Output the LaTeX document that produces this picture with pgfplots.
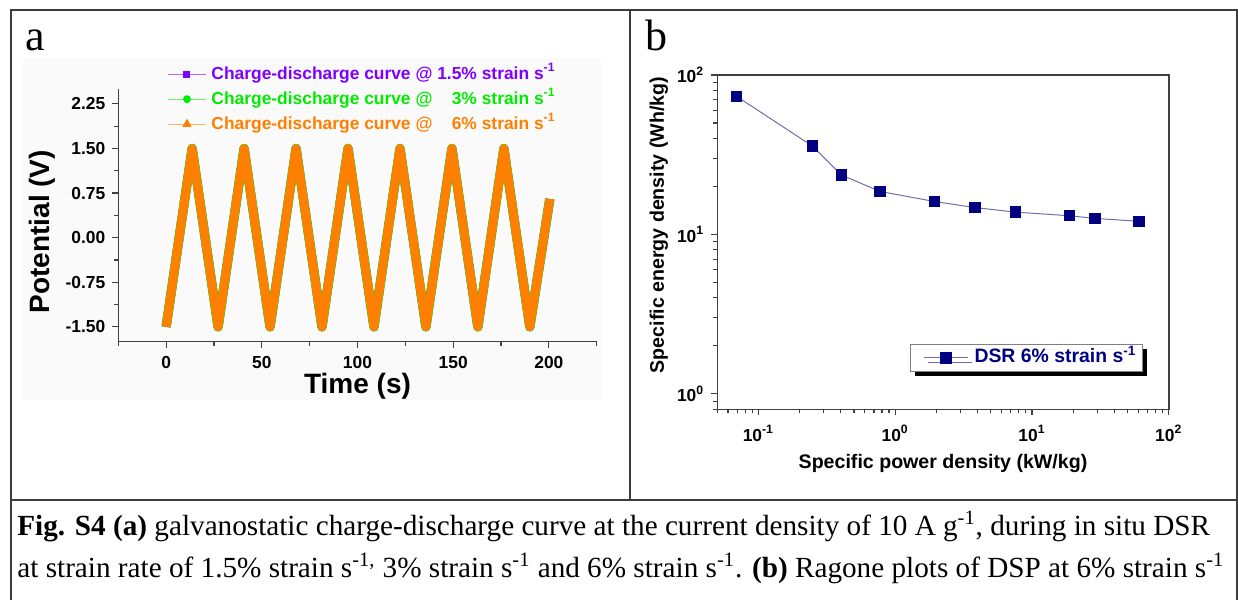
\documentclass[border=0pt]{standalone}
\usepackage{fontspec}
\setmainfont{Liberation Serif}
\setsansfont{Liberation Sans}
\usepackage{pgfplots}
\pgfplotsset{compat=1.18}
\usepackage{pgfplotstable}
\usetikzlibrary{shadows}

\definecolor{cviolet}{RGB}{128,0,255}
\definecolor{cgreen}{RGB}{0,235,0}
\definecolor{corange}{RGB}{255,128,0}
\definecolor{cnavy}{RGB}{0,0,128}
\definecolor{clink}{RGB}{110,110,170}
\definecolor{frame}{RGB}{60,60,60}

% galvanostatic cycling, all three strain rates overlap
\pgfplotstableread{
t V
0 -1.5
13.6 1.5
27.15 -1.5
40.75 1.5
54.3 -1.5
67.9 1.5
81.45 -1.5
95.05 1.5
108.6 -1.5
122.2 1.5
135.75 -1.5
149.35 1.5
162.9 -1.5
176.5 1.5
190.05 -1.5
200.5 0.65
}\wave

% Ragone data, DSR 6% strain/s
\pgfplotstableread{
P E
0.0692 73.5
0.249 35.8
0.404 23.6
0.776 18.6
1.93 16.1
3.82 14.75
7.55 13.8
18.8 13.1
28.8 12.6
60.4 12.1
}\ragone

\begin{document}
\begin{tikzpicture}
\path[use as bounding box] (0,0) rectangle (619pt,-300pt);
\fill[black!2] (11.5pt,-29pt) rectangle (300.5pt,-200pt);

% frame
\draw[frame, line width=0.75pt] (5.5pt,-300pt) -- (5.5pt,-5pt) -- (618.5pt,-5pt) -- (618.5pt,-300pt);
\draw[frame, line width=0.75pt] (315pt,-5pt) -- (315pt,-250pt);
\draw[frame, line width=0.75pt] (5.5pt,-250pt) -- (618.5pt,-250pt);

\node[anchor=base west, inner sep=0pt, font=\fontsize{22}{24}\selectfont] at (12.5pt,-25pt) {a};
\node[anchor=base west, inner sep=0pt, font=\fontsize{22}{24}\selectfont] at (322.5pt,-25pt) {b};

% panel a
\begin{axis}[
  at={(59.15pt,-170.85pt)}, anchor=south west,
  scale only axis, width=239.2pt, height=126.35pt,
  xmin=-25, xmax=225, ymin=-1.75, ymax=2.5,
  axis x line=bottom, axis y line=left,
  axis line style={-, black!75, line width=0.7pt},
  tick align=outside, major tick length=3pt, minor tick length=2pt,
  tick style={black!75, line width=0.6pt},
  xtick={0,50,100,150,200}, xticklabels={0,50,100,150,200},
  minor xtick={-25,25,75,125,175,225},
  ytick={-1.5,-0.75,0,0.75,1.5,2.25},
  yticklabels={-1.50,-0.75,0.00,0.75,1.50,2.25},
  minor ytick={-1.125,-0.375,0.375,1.125,1.875},
  ticklabel style={font=\sffamily\bfseries\fontsize{8.7}{10}\selectfont},
  xticklabel style={inner sep=1pt, yshift=-3pt},
  xlabel={Time (s)}, ylabel={Potential (V)},
  label style={inner sep=0pt, font=\sffamily\bfseries\fontsize{14}{16}\selectfont},
  xlabel style={at={(axis description cs:0.5,-0.178)}, anchor=center},
  ylabel style={at={(axis description cs:-0.1595,0.435)}, anchor=center},
  legend cell align=left,
  legend image code/.code={\draw[mark repeat=2, mark phase=2, #1] plot coordinates {(0pt,0pt) (9.5pt,0pt) (19pt,0pt)};},
  legend style={at={(axis description cs:0.102,1.096)}, anchor=north west,
    draw=none, fill=none, inner sep=0pt, row sep=3.5pt, column sep=2.5pt,
    nodes={inner sep=0pt, text height=7pt, text depth=2pt},
    font=\sffamily\bfseries\fontsize{8.7}{10}\selectfont},
  clip=false
]
\addplot[cviolet, line width=4.5pt, line join=round, forget plot] table {\wave};
\addplot[cgreen, line width=4.7pt, line join=round, forget plot] table {\wave};
\addplot[corange, line width=4.4pt, line join=round, forget plot] table {\wave};
\addlegendimage{cviolet!60, line width=0.5pt, mark=square*, mark size=1.5pt, mark options={cviolet, solid}}
\addlegendentry{\textcolor{cviolet}{Charge-discharge curve @ 1.5\% strain s\textsuperscript{-1}}}
\addlegendimage{cgreen!60, line width=0.5pt, mark=*, mark size=1.7pt, mark options={cgreen, solid}}
\addlegendentry{\textcolor{cgreen}{Charge-discharge curve @ \phantom{1.}3\% strain s\textsuperscript{-1}}}
\addlegendimage{corange!60, line width=0.5pt, mark=triangle*, mark size=2.2pt, mark options={corange, solid}}
\addlegendentry{\textcolor{corange}{Charge-discharge curve @ \phantom{1.}6\% strain s\textsuperscript{-1}}}
\end{axis}

% panel b
\begin{axis}[
  at={(358.6pt,-204.65pt)}, anchor=south west,
  scale only axis, width=225.8pt, height=167.15pt,
  xmode=log, ymode=log,
  xmin=0.05, xmax=100, ymin=0.8, ymax=100,
  axis line style={black!75, line width=0.7pt},
  xtick pos=bottom, ytick pos=left,
  tick align=outside, major tick length=3pt, minor tick length=2pt,
  tick style={black!75, line width=0.6pt},
  xtick={0.1,1,10,100},
  xticklabels={10\textsuperscript{-1},10\textsuperscript{0},10\textsuperscript{1},10\textsuperscript{2}},
  minor xtick={0.05,0.06,0.07,0.08,0.09,0.2,0.3,0.4,0.5,0.6,0.7,0.8,0.9,2,3,4,5,6,7,8,9,20,30,40,50,60,70,80,90},
  ytick={1,10,100},
  yticklabels={10\textsuperscript{0},10\textsuperscript{1},10\textsuperscript{2}},
  minor ytick={0.8,0.9,2,3,4,5,6,7,8,9,20,30,40,50,60,70,80,90},
  ticklabel style={font=\sffamily\bfseries\fontsize{8.7}{10}\selectfont},
  xticklabel style={yshift=-1.5pt},
  xlabel={Specific power density (kW/kg)},
  ylabel={Specific energy density (Wh/kg)},
  label style={inner sep=0pt, font=\sffamily\bfseries\fontsize{9.8}{11}\selectfont},
  xlabel style={at={(axis description cs:0.5,-0.161)}, anchor=center},
  ylabel style={at={(axis description cs:-0.129,0.551)}, anchor=center},
  legend image code/.code={\path (0pt,0pt); \draw[mark repeat=2, mark phase=2, #1] plot coordinates {(3.3pt,0pt) (14.4pt,0pt) (25.5pt,0pt)};},
  legend style={at={(axis description cs:0.427,0.111)}, anchor=south west,
    draw=black!50, line width=0.5pt, fill=white,
    drop shadow={shadow xshift=2.2pt, shadow yshift=-2.2pt, fill=black, opacity=1},
    inner xsep=3pt, inner ysep=2pt, column sep=3pt,
    nodes={inner sep=0pt, text height=7.3pt, text depth=2.5pt},
    font=\sffamily\bfseries\fontsize{9.7}{11}\selectfont}
]
\addplot[clink, line width=0.5pt, mark=square*, mark size=2.6pt,
  mark options={fill=cnavy, draw=cnavy, solid}] table {\ragone};
\addlegendentry{\textcolor{cnavy}{DSR 6\% strain s\textsuperscript{-1}}}
\end{axis}

% caption
\node[anchor=base west, inner sep=0pt, font=\fontsize{14.6}{17}\selectfont] at (8.5pt,-267.5pt)
  {\textbf{Fig. S4 (a)} galvanostatic charge-discharge curve at the current density of 10 A g\textsuperscript{-1}, during in situ DSR};
\node[anchor=base west, inner sep=0pt, font=\fontsize{14.6}{17}\selectfont] at (8.5pt,-288.5pt)
  {at strain rate of 1.5\% strain s\textsuperscript{-1,} 3\% strain s\textsuperscript{-1} and 6\% strain s\textsuperscript{-1}. \textbf{(b)} Ragone plots of DSP at 6\% strain s\textsuperscript{-1}};
\end{tikzpicture}
\end{document}
